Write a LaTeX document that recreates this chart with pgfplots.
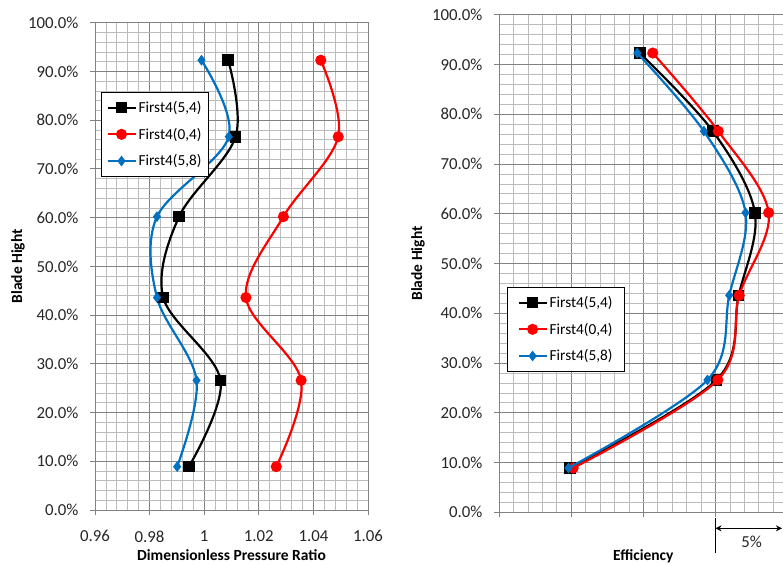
\documentclass[border=0pt]{standalone}
\usepackage{fontspec}
\setmainfont{Carlito}
\usepackage{pgfplots}
\pgfplotsset{compat=1.18}
\usetikzlibrary{arrows.meta}

\definecolor{serA}{RGB}{0,0,0}
\definecolor{serB}{RGB}{255,0,0}
\definecolor{serC}{RGB}{0,112,192}
\definecolor{gridmajor}{RGB}{130,130,130}
\definecolor{gridminor}{RGB}{188,188,188}

% spanwise profiles: x value, blade height in percent
\pgfplotstableread{
x      h
0.9944 8.9
1.0060 26.6
0.9850 43.6
0.9908 60.2
1.0115 76.6
1.0088 92.3
}\prA
\pgfplotstableread{
x      h
1.0264 8.9
1.0355 26.6
1.0153 43.6
1.0290 60.2
1.0491 76.6
1.0427 92.3
}\prB
\pgfplotstableread{
x      h
0.9901 8.9
0.9972 26.6
0.9827 43.6
0.9827 60.2
1.0090 76.6
0.9990 92.3
}\prC
% efficiency, in percent from the left edge of the grid
\pgfplotstableread{
x      h
4.93  8.9
15.07 26.6
16.60 43.6
17.73 60.2
14.81 76.6
9.75  92.3
}\efA
\pgfplotstableread{
x      h
5.14  8.9
15.16 26.6
16.64 43.6
18.68 60.2
15.19 76.6
10.65 92.3
}\efB
\pgfplotstableread{
x      h
4.81  8.9
14.44 26.6
15.95 43.6
17.08 60.2
14.19 76.6
9.58  92.3
}\efC

\pgfplotsset{
  profile/.style={
    scale only axis,
    ymin=0, ymax=100,
    ytick={0,10,...,100},
    yticklabels={0.0\%,10.0\%,20.0\%,30.0\%,40.0\%,50.0\%,60.0\%,70.0\%,80.0\%,90.0\%,100.0\%},
    minor x tick num=4,
    minor y tick num=4,
    grid=both,
    major grid style={gridmajor, line width=0.8pt},
    minor grid style={gridminor, line width=0.7pt},
    axis line style={gridmajor, line width=0.8pt},
    tick pos=left,
    tick align=outside,
    major tick length=5pt,
    minor tick length=0pt,
    tick style={gridmajor, line width=0.8pt},
    ticklabel style={font=\fontsize{16.8}{18}\selectfont, text=black!85},
    yticklabel style={xshift=-8pt},
    xticklabel style={yshift=-12pt},
    label style={font=\fontsize{15.5}{18}\selectfont\bfseries, text=black},
    ylabel={Blade Hight},
    legend cell align=left,
    legend style={font=\fontsize{15.3}{16}\selectfont, draw=black, line width=0.8pt,
      anchor=north west, row sep=10pt, inner xsep=5pt, inner ysep=7pt},
    legend image code/.code={%
      \draw[mark repeat=2,mark phase=2] plot coordinates {(0pt,0pt) (14pt,0pt) (28pt,0pt)};},
    every axis plot/.append style={line width=2.2pt, smooth, tension=0.55},
  },
  sA/.style={serA, mark=square*, mark size=4.7pt, mark options={solid}},
  sB/.style={serB, mark=*, mark size=4.4pt, mark options={solid}},
  sC/.style={serC, mark=diamond*, mark size=3.6pt, mark options={solid}},
}

\begin{document}
\begin{tikzpicture}
\useasboundingbox (0pt,0pt) rectangle (783pt,563pt);
\clip (0pt,0pt) rectangle (783pt,563pt);

\begin{axis}[profile,
  at={(95pt,53pt)}, anchor=south west,
  width=273pt, height=487.3pt,
  xmin=0.96, xmax=1.06,
  xtick={0.96,0.98,1,1.02,1.04,1.06},
  xticklabels={0.96,0.98,1,1.02,1.04,1.06},
  xlabel={Dimensionless Pressure Ratio},
  xlabel style={at={(axis description cs:0.5,-0.092)}, anchor=center},
  ylabel style={at={(axis description cs:-0.282,0.5)}, anchor=center},
  legend style={at={(axis description cs:0.022,0.858)}},
]
\addplot[sA] table[x=x,y=h] {\prA};
\addlegendentry{First4(5,4)}
\addplot[sB] table[x=x,y=h] {\prB};
\addlegendentry{First4(0,4)}
\addplot[sC] table[x=x,y=h] {\prC};
\addlegendentry{First4(5,8)}
\end{axis}

\begin{axis}[profile,
  at={(499pt,50.7pt)}, anchor=south west,
  width=288.7pt, height=497.6pt,
  xmin=0, xmax=20,
  xtick={0,5,...,20},
  xticklabels={},
  clip mode=individual,
  xlabel={Efficiency},
  xlabel style={at={(axis description cs:0.5,-0.088)}, anchor=center},
  ylabel style={at={(axis description cs:-0.281,0.5)}, anchor=center},
  legend style={at={(axis description cs:0.028,0.453)}, inner xsep=10pt},
]
\addplot[sA] table[x=x,y=h] {\efA};
\addlegendentry{First4(5,4)}
\addplot[sB] table[x=x,y=h] {\efB};
\addlegendentry{First4(0,4)}
\addplot[sC] table[x=x,y=h] {\efC};
\addlegendentry{First4(5,8)}
% 5 % scale bar under the grid
\draw[black, line width=0.8pt] ([yshift=-6pt]axis cs:15,0) -- ([yshift=-41pt]axis cs:15,0);
\draw[black, line width=0.8pt, {Stealth[length=6pt,width=6pt]}-{Stealth[length=6pt,width=6pt]}]
  ([yshift=-16pt]axis cs:15,0) -- ([yshift=-16pt]axis cs:19.6,0);
\node[font=\fontsize{16.8}{18}\selectfont, text=black!85] at ([yshift=-29.5pt]axis cs:17.5,0) {5\%};
\end{axis}
\end{tikzpicture}
\end{document}
